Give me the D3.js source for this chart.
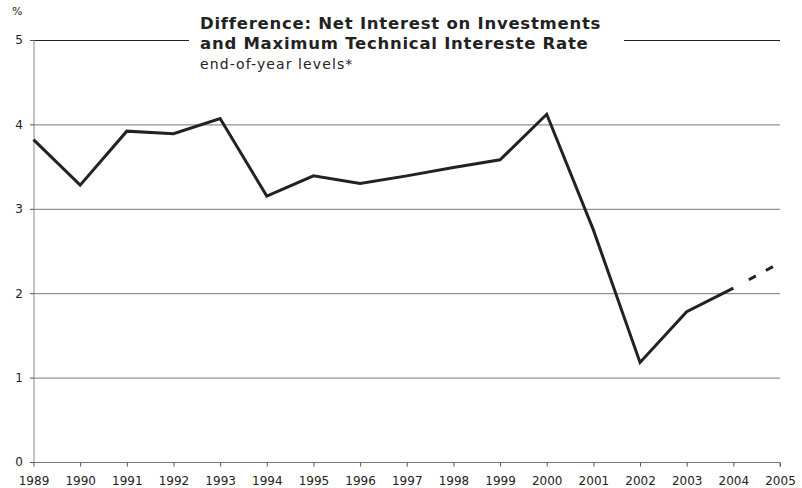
<!DOCTYPE html>
<html><head><meta charset="utf-8">
<script src="https://cdn.jsdelivr.net/npm/d3@7"></script>
<style>body{margin:0;background:#fff}svg{display:block}text{font-family:"DejaVu Sans",Verdana,sans-serif}</style>
</head><body><svg id="c" width="802" height="488"></svg>
<script>
const years = [1989,1990,1991,1992,1993,1994,1995,1996,1997,1998,1999,2000,2001,2002,2003,2004];
const values = [3.82,3.28,3.92,3.89,4.07,3.15,3.39,3.30,3.39,3.49,3.58,4.12,2.75,1.18,1.78,2.06];
const forecastYears = [2004,2005];
const forecastValues = [2.06,2.36];
const xTicks = d3.range(1989,2006);
const yTicks = [0,1,2,3,4,5];
const titleLines = ["Difference: Net Interest on Investments","and Maximum Technical Intereste Rate"];
const subtitle = "end-of-year levels*";
const unitLabel = "%";

const svg = d3.select("#c");
const x = d3.scaleLinear().domain([1989,2005]).range([33.5,780]);
const y = d3.scaleLinear().domain([0,5]).range([462,40]);

// gridlines
svg.append("g").selectAll("line").data(yTicks.filter(d=>d>0)).join("line")
  .attr("x1",34).attr("x2",780).attr("y1",d=>y(d)+0.5).attr("y2",d=>y(d)+0.5)
  .attr("stroke",d=>d===5?"#222":"#777").attr("stroke-width",1);

// title mask
svg.append("rect").attr("x",189).attr("y",8).attr("width",435).attr("height",68).attr("fill","#fff");

// y axis
const ya = svg.append("g").attr("transform","translate(34,0)")
  .call(d3.axisLeft(y).tickValues(yTicks).tickSize(4).tickPadding(7).tickFormat(d3.format("d")));
ya.select(".domain").attr("stroke","#888").attr("d",`M0,${y(5)}V${y(0)}`);
ya.selectAll(".tick line").attr("stroke","#555");
ya.selectAll("text").attr("font-size",12).attr("fill","#222").attr("font-family","DejaVu Sans");

// x axis
const xa = svg.append("g").attr("transform",`translate(0,${y(0)+0.5})`)
  .call(d3.axisBottom(x).tickValues(xTicks).tickSize(4).tickPadding(10).tickFormat(d3.format("d")));
xa.select(".domain").attr("stroke","#777").attr("d",`M${x(1989)},0H${x(2005)}V4`);
xa.selectAll(".tick line").attr("stroke","#555");
xa.selectAll("text").attr("font-size",12).attr("fill","#222").attr("font-family","DejaVu Sans");

// lines
const line = d3.line().x(d=>x(d[0])).y(d=>y(d[1])).curve(d3.curveLinear);
svg.append("path").datum(years.map((d,i)=>[d,values[i]])).attr("d",line)
  .attr("fill","none").attr("stroke","#222").attr("stroke-width",3).attr("stroke-linejoin","miter");
svg.append("path").datum(forecastYears.map((d,i)=>[d,forecastValues[i]])).attr("d",line)
  .attr("fill","none").attr("stroke","#222").attr("stroke-width",3).attr("stroke-dasharray","0 17.6 8 11.4 8 100");

// texts
svg.append("text").attr("x",12).attr("y",15).attr("font-size",11).attr("fill","#222").text(unitLabel);
svg.selectAll(".tl").data(titleLines).join("text").attr("class","tl")
  .attr("x",200).attr("y",(d,i)=>29+i*20.3).attr("font-size",16.5).attr("letter-spacing",0.75)
  .attr("font-weight","bold").attr("fill","#222").text(d=>d);
svg.append("text").attr("x",200).attr("y",69).attr("font-size",14).attr("letter-spacing",1.1).attr("fill","#222").text(subtitle);
</script></body></html>
